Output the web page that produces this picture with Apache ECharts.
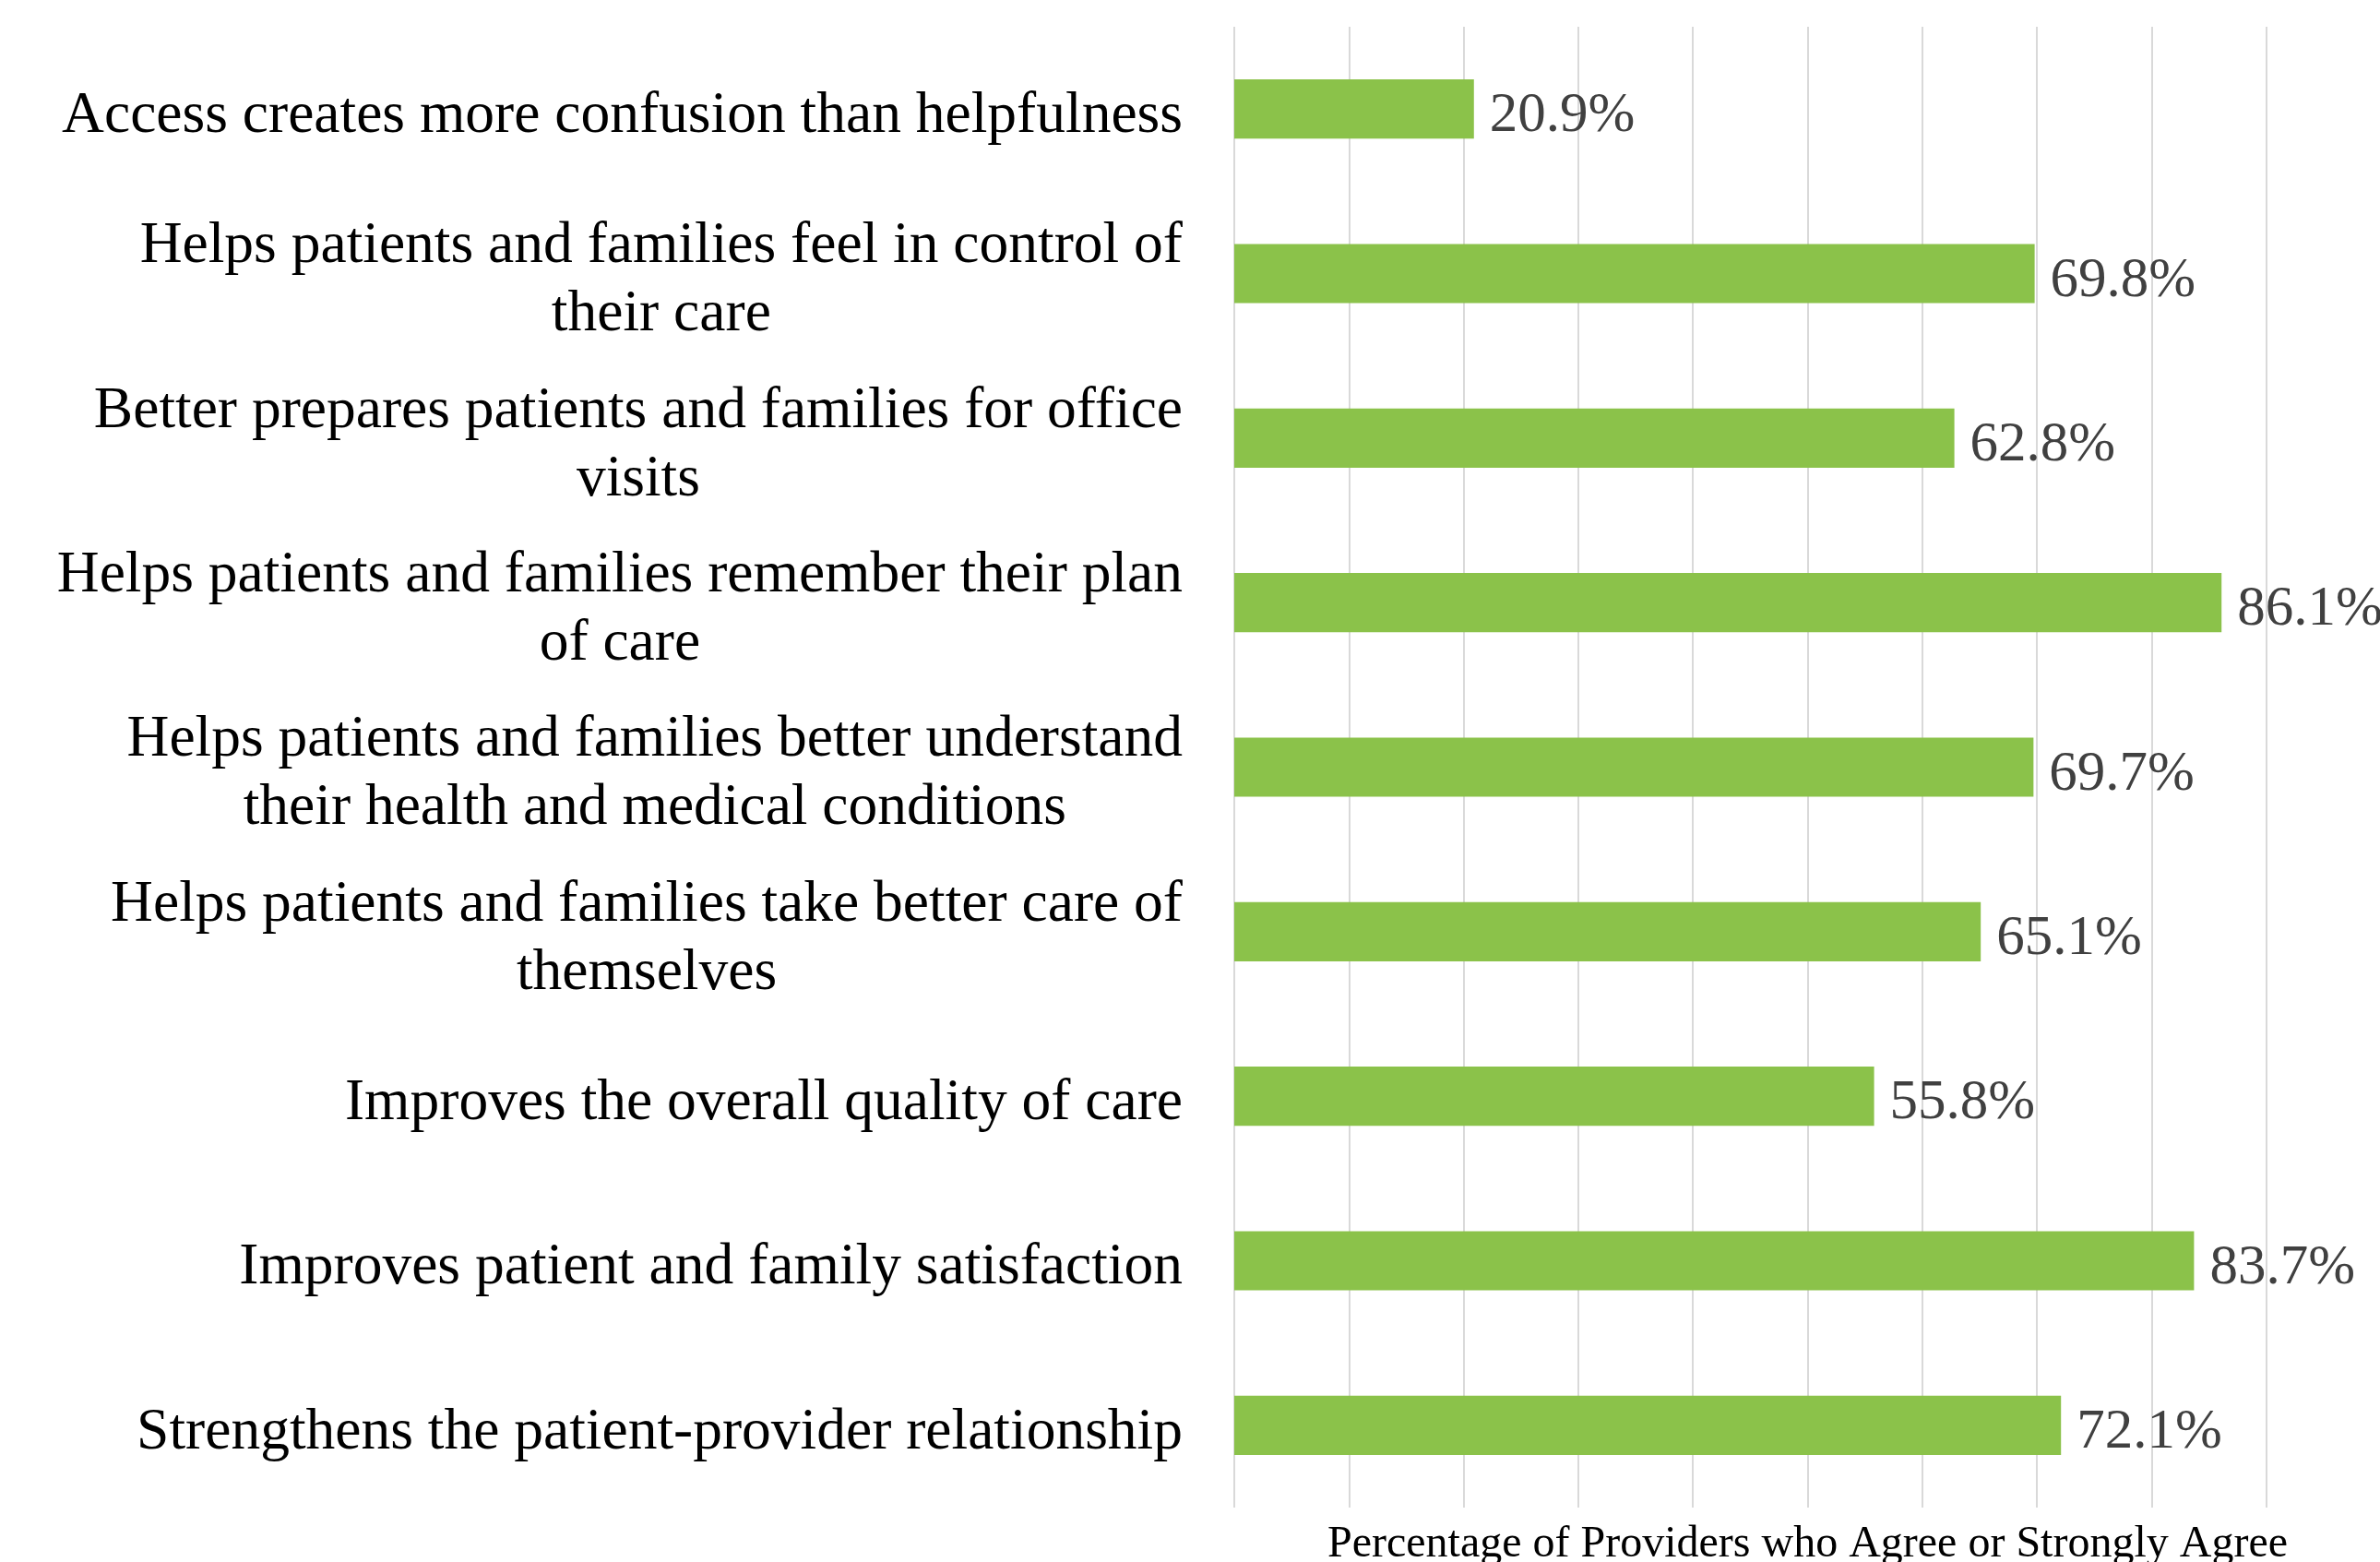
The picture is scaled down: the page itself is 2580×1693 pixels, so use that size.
<!DOCTYPE html>
<html>
<head>
<meta charset="utf-8">
<script src="https://cdn.jsdelivr.net/npm/echarts@6/dist/echarts.min.js"></script>
<style>
html,body{margin:0;padding:0;background:#fff;}
#chart{width:2580px;height:1693px;}
</style>
</head>
<body>
<div id="chart"></div>
<script>
const categories = [
  "Access creates more confusion than helpfulness",
  "Helps patients and families feel in control of\ntheir care",
  "Better prepares patients and families for office\nvisits",
  "Helps patients and families remember their plan\nof care",
  "Helps patients and families better understand\ntheir health and medical conditions",
  "Helps patients and families take better care of\nthemselves",
  "Improves the overall quality of care",
  "Improves patient and family satisfaction",
  "Strengthens the patient-provider relationship"
];
const values = [20.9, 69.8, 62.8, 86.1, 69.7, 65.1, 55.8, 83.7, 72.1];
const axisTitle = "Percentage of Providers who Agree or Strongly Agree";

const FONT = "'Liberation Serif', 'Times New Roman', serif";
const chart = echarts.init(document.getElementById('chart'));
chart.setOption({
  animation: false,
  backgroundColor: '#ffffff',
  grid: { left: 1338, right: -1, top: 29, bottom: 59, containLabel: false, outerBoundsMode: 'none' },
  xAxis: {
    type: 'value',
    min: 0, max: 100, interval: 10,
    axisLine: { show: false },
    axisTick: { show: false },
    axisLabel: { show: false },
    splitLine: { show: true, lineStyle: { color: '#D9D9D9', width: 2 } },
    name: axisTitle,
    nameLocation: 'middle',
    nameGap: 16,
    nameTextStyle: { fontFamily: FONT, fontSize: 48, color: '#000000', verticalAlign: 'top' }
  },
  yAxis: {
    type: 'category',
    data: categories,
    inverse: true,
    axisLine: { show: false },
    axisTick: { show: false },
    splitLine: { show: false },
    axisLabel: {
      margin: 56,
      fontFamily: FONT,
      fontSize: 63.5,
      color: '#000000',
      lineHeight: 74,
      padding: [16, 0, 0, 0],
      formatter: function (v) {
        return v.split('\n').map(function (l) { return '{c|' + l + '}'; }).join('\n');
      },
      rich: {
        c: { align: 'center', fontFamily: FONT, fontSize: 63.5, color: '#000000', lineHeight: 74 }
      }
    }
  },
  series: [{
    type: 'bar',
    data: values,
    barCategoryGap: '64%',
    itemStyle: { color: '#8BC24A' },
    label: {
      show: true,
      position: 'right',
      distance: 17,
      offset: [0, 8],
      fontFamily: FONT,
      fontSize: 61,
      color: '#404040',
      formatter: function (p) { return p.value.toFixed(1) + '%'; }
    }
  }]
});
</script>
</body>
</html>
